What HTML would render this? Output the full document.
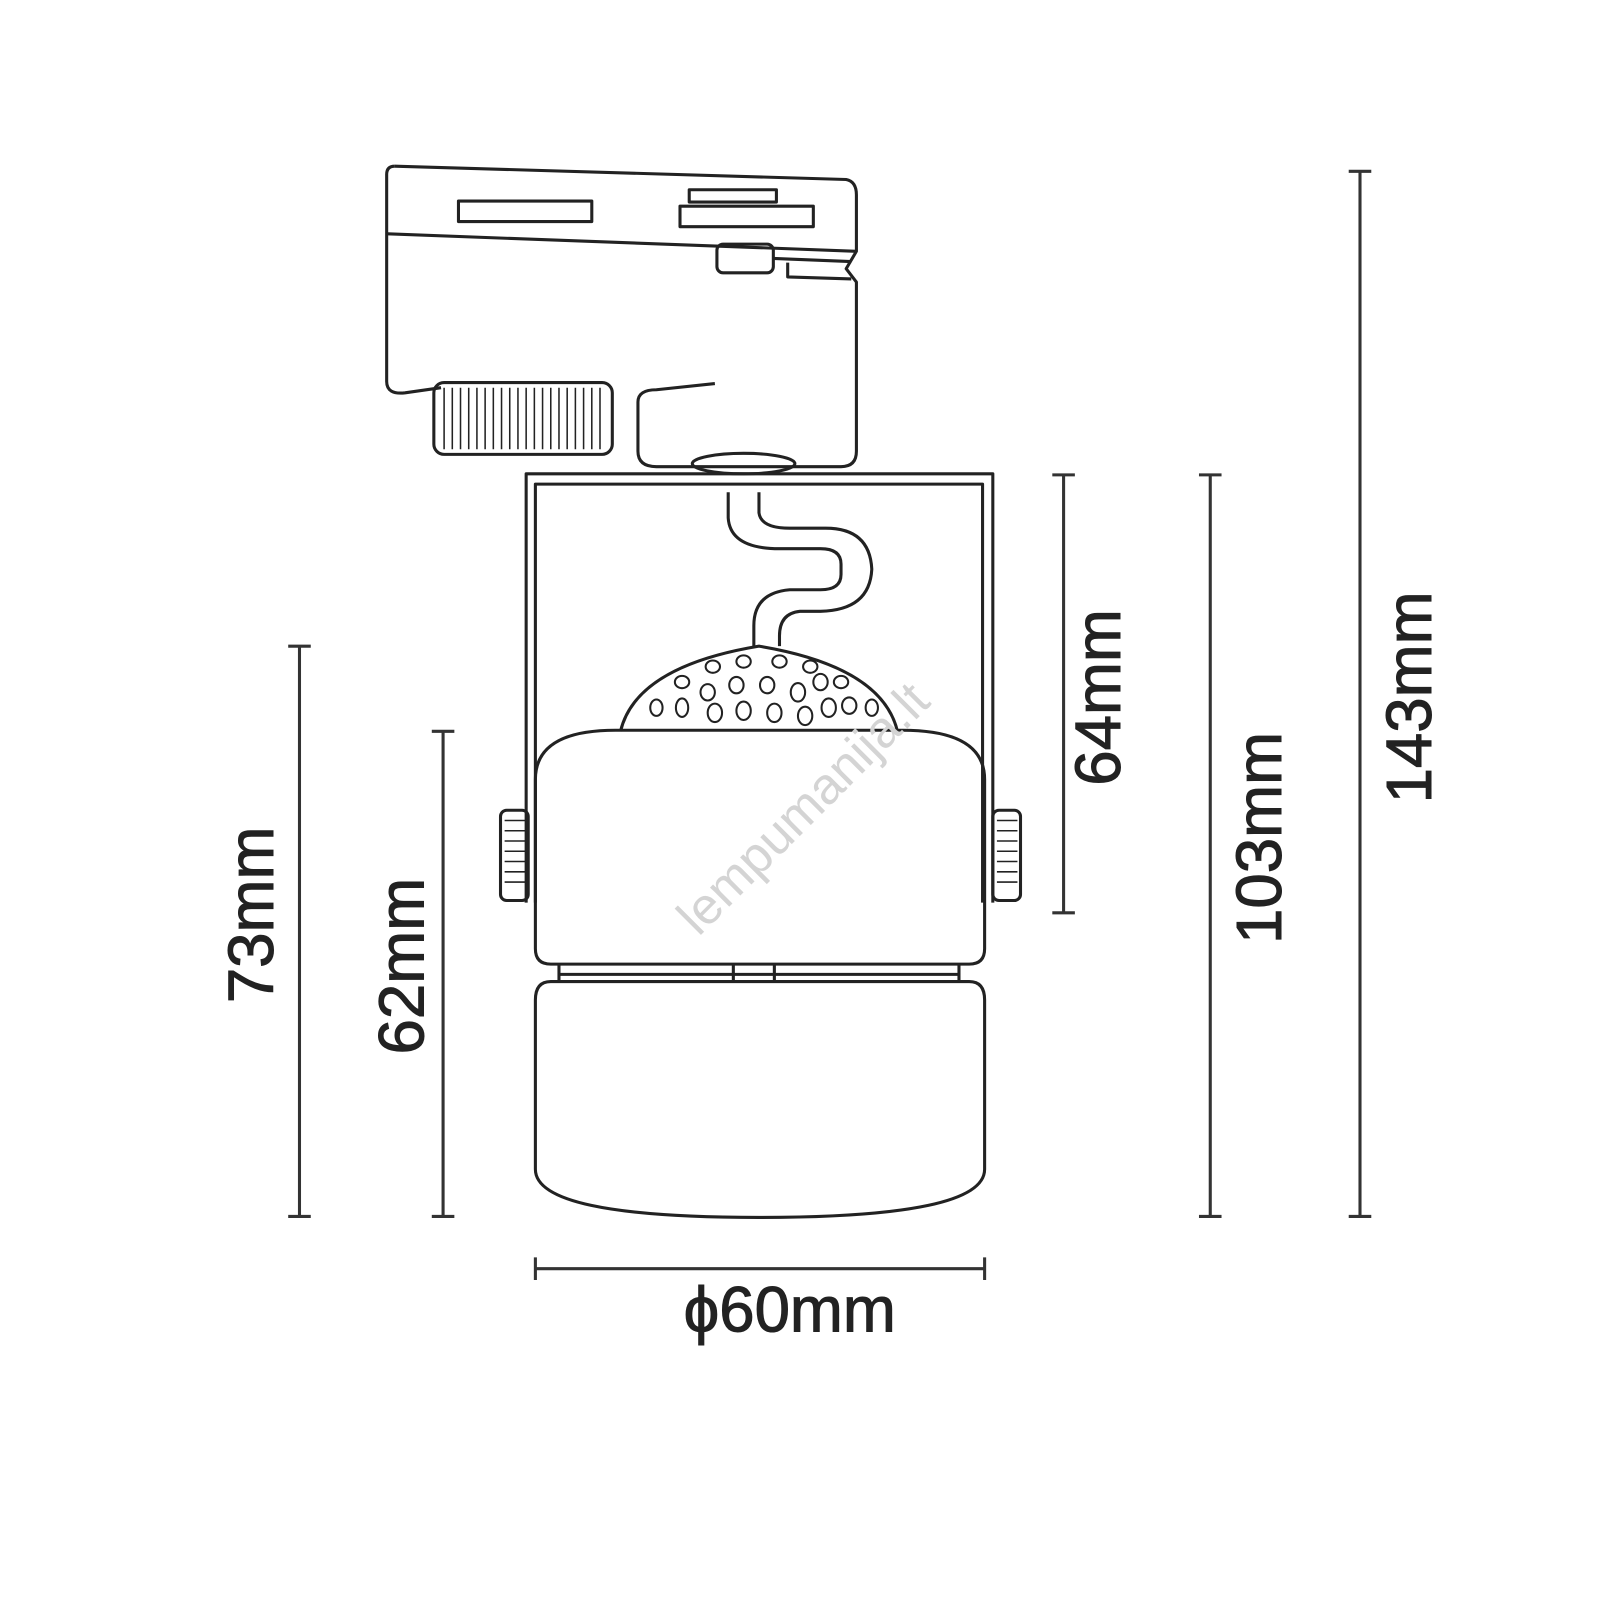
<!DOCTYPE html>
<html><head><style>html,body{margin:0;padding:0;background:#fff}svg{display:block}</style></head>
<body>
<svg width="1600" height="1600" viewBox="0 0 1560 1560" xmlns="http://www.w3.org/2000/svg">
<rect width="1560" height="1560" fill="#fff"/>
<g fill="none" stroke="#222" stroke-width="3" stroke-linejoin="round">
<path d="M385 162 L825 175 Q835 177 835 190 L835 245 L825 262 L835 275 L835 440 Q835 455 820 455 L640 455 Q622 455 622 440 L622 392 Q622 380 640 380 L697 374"/>
<path d="M377 170 Q377 162 385 162 M377 170 L377 372 Q377 385 395 383 L430 378"/>
<path d="M378 228 L835 245"/>
<rect x="447" y="196" width="130" height="20"/>
<rect x="672" y="185" width="85" height="12"/>
<rect x="663" y="201" width="130" height="20"/>
<rect x="699" y="238" width="55" height="28" rx="6"/>
<path d="M754 252 L830 255 M768 256 L768 270 L830 272"/>
<rect x="423" y="373" width="174" height="70" rx="10"/>
<g stroke-width="1.5"><path d="M433 378 V438 M441 378 V438 M449 378 V438 M457 378 V438 M465 378 V438 M473 378 V438 M481 378 V438 M489 378 V438 M497 378 V438 M505 378 V438 M513 378 V438 M521 378 V438 M529 378 V438 M537 378 V438 M545 378 V438 M553 378 V438 M561 378 V438 M569 378 V438 M577 378 V438 M585 378 V438"/></g>
<ellipse cx="725" cy="452" rx="50" ry="10"/>
<path d="M513 880 L513 462 L968 462 L968 880"/>
<path d="M522 880 L522 472 L958 472 L958 880"/>
<path d="M710 480 L710 505 Q712 535 760 535 L800 535 Q820 535 820 550 L820 560 Q820 575 800 575 L770 575 Q735 578 735 610 L735 630"/>
<path d="M740 480 L740 500 Q742 515 770 515 L805 515 Q848 515 850 555 Q848 595 800 596 L780 596 Q760 598 760 620 L760 630"/>
<path d="M605 713 Q620 650 740 630 Q860 650 875 713"/>
<g stroke-width="2">
<ellipse cx="665" cy="665" rx="7" ry="6"/><ellipse cx="695" cy="650" rx="7" ry="6"/><ellipse cx="725" cy="645" rx="7" ry="6"/><ellipse cx="760" cy="645" rx="7" ry="6"/><ellipse cx="790" cy="650" rx="7" ry="6"/><ellipse cx="820" cy="665" rx="7" ry="6"/>
<ellipse cx="640" cy="690" rx="6" ry="8"/><ellipse cx="665" cy="690" rx="6" ry="9"/><ellipse cx="690" cy="675" rx="7" ry="8"/><ellipse cx="718" cy="668" rx="7" ry="8"/><ellipse cx="748" cy="668" rx="7" ry="8"/><ellipse cx="778" cy="675" rx="7" ry="9"/><ellipse cx="800" cy="665" rx="7" ry="8"/><ellipse cx="828" cy="688" rx="7" ry="8"/><ellipse cx="850" cy="690" rx="6" ry="8"/>
<ellipse cx="697" cy="695" rx="7" ry="9"/><ellipse cx="725" cy="693" rx="7" ry="9"/><ellipse cx="755" cy="695" rx="7" ry="9"/><ellipse cx="785" cy="698" rx="7" ry="9"/><ellipse cx="808" cy="690" rx="7" ry="9"/>
</g>
<path d="M522 760 Q522 712 600 712 L880 712 Q960 712 960 760 L960 925 Q960 940 945 940 L537 940 Q522 940 522 925 Z"/>
<path d="M545 940 L545 957 M935 940 L935 957 M545 950 L935 950 M715 940 L715 957 M755 940 L755 957"/>
<path d="M537 957 L945 957 Q960 957 960 975 L960 1140 Q960 1187 740 1187 Q522 1187 522 1140 L522 975 Q522 957 537 957 Z"/>
<rect x="488" y="790" width="27" height="88" rx="6"/>
<rect x="968" y="790" width="27" height="88" rx="6"/>
<g stroke-width="1.5"><path d="M492 800 H512 M492 810 H512 M492 820 H512 M492 830 H512 M492 840 H512 M492 850 H512 M492 860 H512 M972 800 H992 M972 810 H992 M972 820 H992 M972 830 H992 M972 840 H992 M972 850 H992 M972 860 H992"/></g>
</g>
<g stroke="#333" stroke-width="3" fill="none">
<path d="M1326 167 V1186 M1315 167 H1337 M1315 1186 H1337"/>
<path d="M1180 463 V1186 M1169 463 H1191 M1169 1186 H1191"/>
<path d="M1037 463 V890 M1026 463 H1048 M1026 890 H1048"/>
<path d="M292 630 V1186 M281 630 H303 M281 1186 H303"/>
<path d="M432 713 V1186 M421 713 H443 M421 1186 H443"/>
<path d="M522 1237 H960 M522 1226 V1248 M960 1226 V1248"/>
</g>
<g font-family="Liberation Sans, sans-serif" font-size="62" fill="#222" stroke="#222" stroke-width="1" text-anchor="middle">
<text transform="translate(1395 680) rotate(-90)">143mm</text>
<text transform="translate(1249 817) rotate(-90)">103mm</text>
<text transform="translate(1092 680) rotate(-90)">64mm</text>
<text transform="translate(266 892) rotate(-90)">73mm</text>
<text transform="translate(413 942) rotate(-90)">62mm</text>
<text x="770" y="1298">ϕ60mm</text>
</g>
<text transform="translate(795 800) rotate(-45)" font-family="Liberation Sans, sans-serif" font-size="50" fill="#d4d4d4" text-anchor="middle">lempumanija.lt</text>
</svg>
</body></html>
